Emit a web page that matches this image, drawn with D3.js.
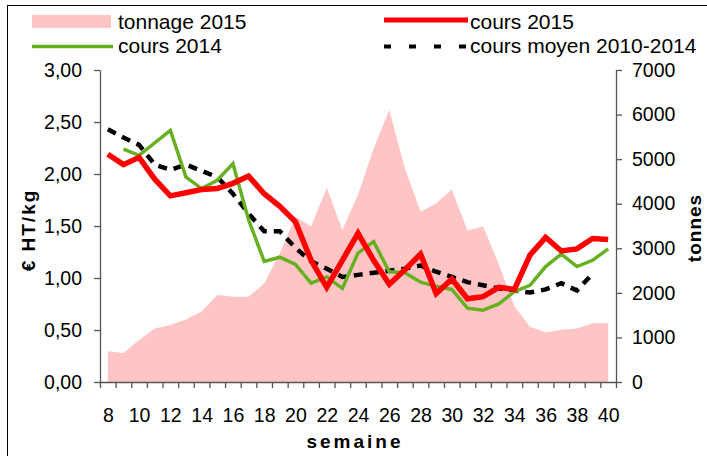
<!DOCTYPE html>
<html><head><meta charset="utf-8">
<script src="https://cdn.jsdelivr.net/npm/d3@7"></script>
<style>
html,body{margin:0;padding:0;background:#fff;}
svg{display:block;font-family:"Liberation Sans",Arial,sans-serif;}
</style></head>
<body>
<svg id="chart" width="707" height="456"></svg>
<script>
const weeks = d3.range(8, 41);
const tonnage2015 = [690,650,940,1200,1280,1400,1580,1950,1910,1910,2210,2890,3710,3490,4360,3410,4200,5240,6100,4790,3820,4010,4320,3400,3490,2650,1700,1240,1110,1170,1200,1320,1320];
const cours2015 = [2.19,2.09,2.16,1.95,1.79,1.82,1.85,1.86,1.91,1.98,1.81,1.69,1.54,1.17,0.91,1.17,1.43,1.17,0.94,1.08,1.23,0.85,0.99,0.80,0.82,0.91,0.89,1.22,1.39,1.26,1.28,1.38,1.37];
const cours2014 = [null,2.24,2.18,2.30,2.42,1.97,1.86,1.94,2.10,1.56,1.16,1.20,1.13,0.95,1.01,0.90,1.24,1.35,1.06,1.05,0.96,0.92,0.89,0.71,0.69,0.75,0.87,0.93,1.11,1.23,1.11,1.17,1.28];
const coursMoyen = [2.43,2.35,2.28,2.09,2.04,2.09,2.03,1.97,1.81,1.62,1.45,1.45,1.29,1.16,1.09,1.01,1.03,1.05,1.07,1.09,1.12,1.06,1.01,0.96,0.93,0.90,0.88,0.86,0.89,0.95,0.88,1.04,null];
const leftTicks = [0,0.5,1,1.5,2,2.5,3];
const rightTicks = [0,1000,2000,3000,4000,5000,6000,7000];
const xLabels = d3.range(8, 41, 2);

const svg = d3.select("#chart");
const L = 100, R = 616, T = 70, B = 382;
const x = d3.scaleLinear().domain([7.5, 40.5]).range([L, R]);
const yL = d3.scaleLinear().domain([0, 3]).range([B, T]);
const yR = d3.scaleLinear().domain([0, 7000]).range([B, T]);
const font = '"Liberation Sans",Arial,sans-serif';
const axisColor = "#555";

// frame
svg.append("rect").attr("x",7.5).attr("y",5.5).attr("width",800).attr("height",600)
  .attr("fill","none").attr("stroke","#000").attr("stroke-width",1);

// area
const area = d3.area().x((d,i)=>x(weeks[i])).y0(B).y1(d=>yR(d));
svg.append("path").datum(tonnage2015).attr("d",area).attr("fill","#ffc4c4");

const lineIdx = (arr)=>arr.map((v,i)=>({v,i}));
const line2 = d3.line().defined(d=>d.v!=null).x(d=>x(weeks[d.i])).y(d=>yL(d.v));

svg.append("path").datum(lineIdx(coursMoyen)).attr("d",line2).attr("fill","none")
  .attr("stroke","#000").attr("stroke-width",4.5).attr("stroke-dasharray","9,7");
svg.append("path").datum(lineIdx(cours2014)).attr("d",line2).attr("fill","none")
  .attr("stroke","#66b022").attr("stroke-width",3.5);
svg.append("path").datum(lineIdx(cours2015)).attr("d",line2).attr("fill","none")
  .attr("stroke","#ff0000").attr("stroke-width",5.5);

// axes
const fmt = d => d3.format(".2f")(d).replace(".", ",");
const gL = svg.append("g").attr("transform",`translate(${L},0)`)
  .call(d3.axisLeft(yL).tickValues(leftTicks).tickFormat(fmt).tickSize(6).tickPadding(12).tickSizeOuter(0));
const gR = svg.append("g").attr("transform",`translate(${R},0)`)
  .call(d3.axisRight(yR).tickValues(rightTicks).tickFormat(d3.format("d")).tickSize(6).tickPadding(10).tickSizeOuter(0));
const gB = svg.append("g").attr("transform",`translate(0,${B})`)
  .call(d3.axisBottom(x).tickValues(d3.range(7.5, 41, 1)).tickFormat("").tickSize(6).tickSizeOuter(0));
const gBL = svg.append("g").attr("transform",`translate(0,${B})`)
  .call(d3.axisBottom(x).tickValues(xLabels).tickFormat(d3.format("d")).tickSize(0).tickPadding(26));
gBL.select(".domain").remove();

[gL,gR,gB,gBL].forEach(g=>{
  g.selectAll(".domain").attr("stroke",axisColor).attr("stroke-width",1.3);
  g.selectAll(".tick line").attr("stroke",axisColor).attr("stroke-width",1.3);
  g.selectAll("text").attr("font-family",font).attr("font-size",19.5).attr("fill","#000");
});

// axis titles
svg.append("text").attr("x",355).attr("y",448).attr("text-anchor","middle")
  .attr("font-family",font).attr("font-size",19).attr("font-weight","bold")
  .attr("letter-spacing","3px").text("semaine");
svg.append("text").attr("transform","translate(35,230) rotate(-90)").attr("text-anchor","middle")
  .attr("font-family",font).attr("font-size",19).attr("font-weight","bold")
  .attr("letter-spacing","2px").text("€ HT/kg");
svg.append("text").attr("transform","translate(701,228) rotate(-90)").attr("text-anchor","middle")
  .attr("font-family",font).attr("font-size",19).attr("font-weight","bold")
  .attr("letter-spacing","1px").text("tonnes");

// legend
const lg = svg.append("g");
lg.append("rect").attr("x",32).attr("y",15).attr("width",79).attr("height",13).attr("fill","#ffc4c4");
lg.append("text").attr("x",118).attr("y",29).text("tonnage 2015");
lg.append("line").attr("x1",32).attr("x2",113).attr("y1",46.5).attr("y2",46.5).attr("stroke","#66b022").attr("stroke-width",3.5);
lg.append("text").attr("x",118).attr("y",53).text("cours 2014");
lg.append("line").attr("x1",384).attr("x2",468).attr("y1",20).attr("y2",20).attr("stroke","#ff0000").attr("stroke-width",5);
lg.append("text").attr("x",470).attr("y",29).text("cours 2015");
lg.append("line").attr("x1",384).attr("x2",468).attr("y1",46.5).attr("y2",46.5).attr("stroke","#000").attr("stroke-width",4).attr("stroke-dasharray","7,18");
lg.append("text").attr("x",470).attr("y",53).text("cours moyen 2010-2014");
lg.selectAll("text").attr("font-family",font).attr("font-size",21).attr("fill","#000");
</script>
</body></html>
